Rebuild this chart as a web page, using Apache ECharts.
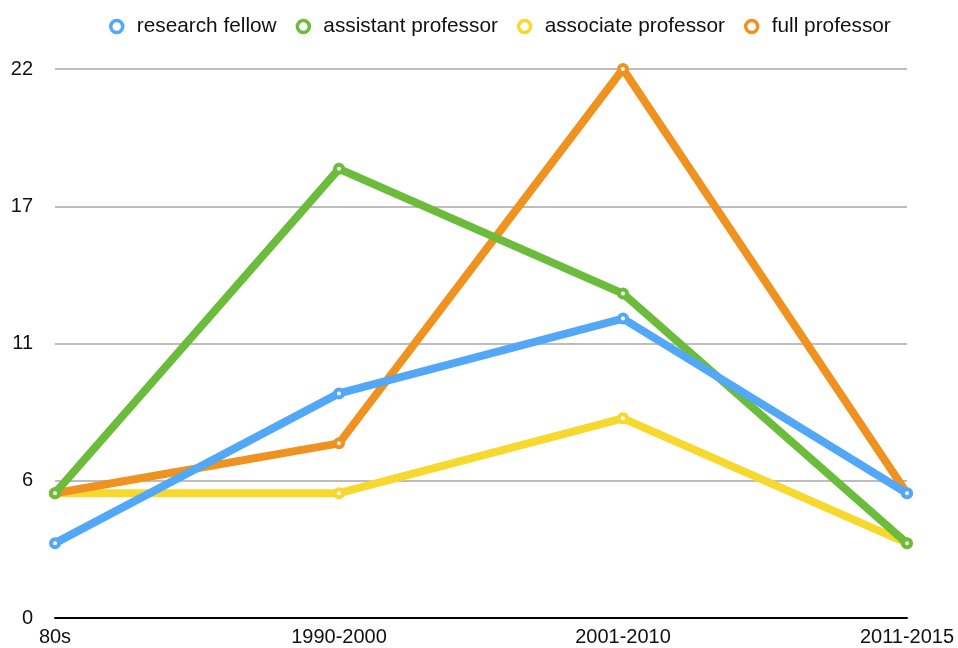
<!DOCTYPE html>
<html><head><meta charset="utf-8">
<script src="https://cdn.jsdelivr.net/npm/echarts@6/dist/echarts.min.js"></script>
<style>html,body{margin:0;padding:0;background:#fff}#c{width:958px;height:648px}</style>
</head><body><div id="c"></div>
<script>
const categories = ['80s', '1990-2000', '2001-2010', '2011-2015'];
const researchFellow = [3, 9, 12, 5];
const assistantProfessor = [5, 18, 13, 3];
const associateProfessor = [5, 5, 8, 3];
const fullProfessor = [5, 7, 22, 5];
const seriesNames = ['research fellow', 'assistant professor', 'associate professor', 'full professor'];
const colors = ['#52a8f7', '#6cbc3c', '#f6d92c', '#ef921f'];

const dataList = [researchFellow, assistantProfessor, associateProfessor, fullProfessor];
const z = [4, 3, 1, 2];
const series = seriesNames.map((n, i) => ({
  name: n, type: 'line', data: dataList[i], z: z[i],
  symbol: 'circle', symbolSize: 8, showSymbol: true,
  lineStyle: { width: 8, color: colors[i] },
  itemStyle: { color: '#fff', borderColor: colors[i], borderWidth: 4 },
  emphasis: { disabled: true }
}));

const chart = echarts.init(document.getElementById('c'));
chart.setOption({
  animation: false,
  color: colors,
  textStyle: { fontFamily: 'Liberation Sans, Arial, sans-serif' },
  legend: {
    data: seriesNames, top: 11, left: 104, icon: 'circle',
    itemWidth: 12, itemHeight: 12, itemGap: 19,
    itemStyle: { color: '#fff', borderWidth: 3.5 },
    textStyle: { fontSize: 20.8, color: '#111', padding: [0, 0, 0, 9] }
  },
  grid: { left: 55, right: 51, top: 69, bottom: 30, containLabel: false },
  xAxis: {
    type: 'category', data: categories, boundaryGap: false,
    axisLine: { lineStyle: { color: '#000', width: 2 } },
    axisTick: { show: false },
    axisLabel: { fontSize: 20, color: '#111', margin: 9, showMinLabel: true, showMaxLabel: true }
  },
  yAxis: {
    type: 'value', min: 0, max: 22, interval: 5.5,
    axisLine: { show: false }, axisTick: { show: false },
    splitLine: { lineStyle: { color: '#bdbdbd', width: 2 } },
    axisLabel: { fontSize: 20, color: '#111', margin: 22, formatter: v => String(Math.round(v)) }
  },
  series: series
});
</script></body></html>
